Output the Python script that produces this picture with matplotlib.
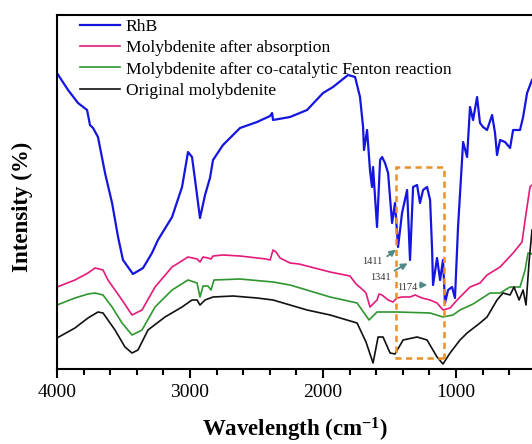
import matplotlib
matplotlib.use("Agg")
import matplotlib.pyplot as plt
from matplotlib.ticker import MultipleLocator
from matplotlib.patches import Rectangle

plt.rcParams['font.family'] = ['Liberation Serif', 'DejaVu Serif']
plt.rcParams['mathtext.fontset'] = 'custom'
plt.rcParams['mathtext.rm'] = 'Liberation Serif'
plt.rcParams['mathtext.bf'] = 'Liberation Serif:bold'

# ---- data (wavenumber cm^-1, intensity in arbitrary units) ----
rhb_w = [4000, 3917, 3842, 3774, 3752, 3729, 3692, 3639, 3586, 3541, 3504, 3429, 3353, 3286,
         3241, 3135, 3060, 3015, 2985, 2962, 2925, 2887, 2850, 2827, 2752, 2624, 2496, 2398,
         2383, 2376, 2248, 2120, 2000, 1925, 1812, 1759, 1722, 1699, 1692, 1669, 1647, 1632,
         1624, 1594, 1571, 1556, 1534, 1511, 1481, 1459, 1436, 1406, 1368, 1346, 1323, 1293,
         1271, 1248, 1218, 1195, 1180, 1173, 1143, 1120, 1098, 1083, 1060, 1030, 1008, 985,
         955, 947, 917, 895, 872, 842, 820, 797, 767, 729, 707, 692, 669, 632, 594, 571, 519,
         496, 466, 429]
rhb_i = [296, 279, 266, 259, 244, 241, 232, 196, 166, 132, 109, 95, 101, 116,
         129, 152, 182, 217, 212, 189, 151, 174, 191, 209, 224, 241, 247, 253,
         256, 249, 252, 259, 276, 282, 294, 292, 272, 242, 219, 239, 199, 182,
         202, 142, 209, 212, 206, 196, 146, 166, 122, 156, 179, 109, 182, 184,
         166, 179, 182, 169, 119, 84, 111, 89, 109, 66, 79, 82, 71, 142,
         209, 227, 212, 262, 249, 272, 246, 242, 239, 254, 236, 214, 229, 227, 221, 239, 239,
         252, 276, 289]

abs_w = [4000, 3865, 3767, 3714, 3654, 3617, 3511, 3436, 3361, 3263, 3135, 3015, 2947, 2925,
         2902, 2865, 2842, 2827, 2752, 2624, 2429, 2398, 2376, 2353, 2323, 2248, 2180, 1947,
         1797, 1752, 1699, 1677, 1647, 1594, 1579, 1556, 1511, 1474, 1444, 1406, 1346, 1308,
         1256, 1195, 1143, 1098, 1045, 992, 895, 820, 767, 669, 571, 504, 481, 444, 429]
abs_i = [82, 89, 96, 101, 99, 89, 69, 54, 59, 82, 102, 112, 110, 107,
         112, 111, 110, 113, 114, 113, 110, 109, 119, 117, 111, 106, 105, 97,
         93, 85, 79, 76, 62, 69, 75, 74, 69, 67, 71, 72, 72, 74,
         71, 69, 66, 59, 61, 69, 82, 86, 94, 102, 116, 127, 149, 182, 184]

fen_w = [4000, 3865, 3767, 3714, 3654, 3586, 3511, 3436, 3361, 3263, 3135, 3015, 2947, 2925,
         2902, 2865, 2842, 2820, 2624, 2376, 2248, 1947, 1744, 1654, 1647, 1594, 1444, 1195,
         1098, 1023, 970, 872, 744, 669, 594, 519, 481, 459, 429]
fen_i = [64, 71, 75, 76, 74, 62, 46, 34, 39, 62, 79, 89, 86, 72,
         83, 83, 79, 89, 90, 87, 84, 72, 66, 49, 50, 57, 57, 56,
         52, 54, 59, 65, 76, 76, 82, 82, 99, 116, 115]

ori_w = [4000, 3865, 3767, 3692, 3654, 3564, 3489, 3436, 3391, 3316, 3188, 3060, 2985, 2947,
         2925, 2887, 2827, 2677, 2496, 2376, 2248, 2120, 1947, 1744, 1677, 1624, 1586, 1549,
         1496, 1459, 1398, 1293, 1218, 1143, 1098, 1045, 970, 917, 820, 767, 692, 647, 594,
         564, 526, 496, 474, 451, 429]
ori_i = [31, 41, 51, 57, 56, 39, 22, 16, 19, 39, 52, 62, 69, 69,
         64, 69, 72, 73, 71, 69, 64, 59, 54, 46, 27, 6, 32, 32,
         16, 15, 29, 32, 29, 12, 5, 16, 29, 36, 46, 52, 69, 76, 74,
         82, 69, 79, 64, 107, 139]

labels = ['RhB', 'Molybdenite after absorption',
          'Molybdenite after co-catalytic Fenton reaction', 'Original molybdenite']
colors = ['#1515E0', '#E5197A', '#2F962F', '#111111']

peak_labels = ['1411', '1341', '1174']
peak_tips = [(1436, 121), (1346, 107), (1195, 84)]
peak_tails = [(1534, 111), (1481, 97), (1293, 84)]
peak_text = [(1632, 108), (1571, 92), (1368, 82)]

box_x = (1451, 1090)
box_y = (11, 202)

# ---- figure ----
fig = plt.figure(figsize=(5.32, 4.44), dpi=100)
ax = fig.add_axes([57/532, 1-369/444, 1-57/532, (369-15)/444])

ax.plot(rhb_w, rhb_i, color=colors[0], lw=1.6, label=labels[0])
ax.plot(abs_w, abs_i, color=colors[1], lw=1.2, label=labels[1])
ax.plot(fen_w, fen_i, color=colors[2], lw=1.2, label=labels[2])
ax.plot(ori_w, ori_i, color=colors[3], lw=1.2, label=labels[3])

rect = Rectangle((box_x[1], box_y[0]), box_x[0]-box_x[1], box_y[1]-box_y[0],
                 fill=False, edgecolor='#E8902A', lw=1.8, ls=(0, (2.5, 1.8)), zorder=5)
ax.add_patch(rect)

for lab, tip, tail, tpos in zip(peak_labels, peak_tips, peak_tails, peak_text):
    ax.annotate('', xy=tip, xytext=tail,
                arrowprops=dict(arrowstyle='-|>', color='#4F8A8B', lw=1.3, mutation_scale=9))
    ax.text(tpos[0], tpos[1], lab, fontsize=7.5, color='#333333', ha='center', va='center')

ax.set_xlim(4000, 429)
ax.set_ylim(0, 354)
ax.set_xticks([4000, 3000, 2000, 1000])
ax.xaxis.set_minor_locator(MultipleLocator(200))
ax.set_yticks([])
ax.tick_params(axis='x', which='major', direction='out', length=6.5, width=1.5, labelsize=14, pad=4)
ax.tick_params(axis='x', which='minor', direction='out', length=4.3, width=1.5)
for s in ['left', 'top', 'bottom']:
    ax.spines[s].set_linewidth(1.5)
ax.spines['right'].set_visible(False)

ax.legend(loc='upper left', bbox_to_anchor=(23/475, 1.0 - 4/354), frameon=False, fontsize=12.6,
          handlelength=2.3, handletextpad=0.3, labelspacing=0.28, borderaxespad=0.0,
          borderpad=0.0, bbox_transform=ax.transAxes)

fig.text(295/532, 1-430/444, r'Wavelength (cm$\mathbf{^{-1}}$)', fontsize=16.5, fontweight='bold',
         ha='center', va='center')
fig.text(22/532, 1-207/444, 'Intensity (%)', fontsize=16.5, fontweight='bold',
         ha='center', va='center', rotation=90)

fig.savefig('out.png', dpi=100)
